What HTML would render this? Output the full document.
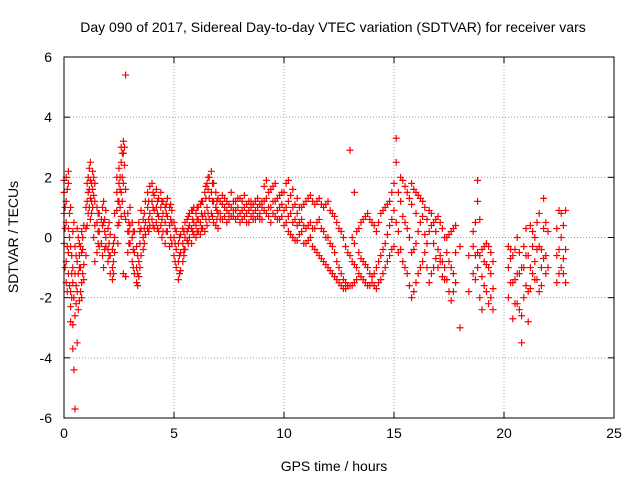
<!DOCTYPE html>
<html><head><meta charset="utf-8"><style>
body{margin:0;background:#fff;}
svg{display:block;font-family:"Liberation Sans",sans-serif;}
</style></head><body>
<svg id="chart" width="640" height="480" viewBox="0 0 640 480" xmlns="http://www.w3.org/2000/svg">
<rect x="0" y="0" width="640" height="480" fill="#fff"/>
<text x="333" y="32" font-size="14" text-anchor="middle">Day 090 of 2017, Sidereal Day-to-day VTEC variation (SDTVAR) for receiver vars</text>
<text x="334" y="471" font-size="14" text-anchor="middle">GPS time / hours</text>
<text x="18" y="237" font-size="14" text-anchor="middle" transform="rotate(-90 18 237)">SDTVAR / TECUs</text>
<g id="grid"></g>
<g id="ticks"></g>
<g id="points"></g>
<rect x="64" y="57" width="550" height="361" fill="none" stroke="#000" stroke-width="1"/>
</svg>
<script>
const xTicks=[0,5,10,15,20,25];
const yTicks=[-6,-4,-2,0,2,4,6];
const hours=[0,0.1,0.2,0.3,0.4,0.45,0.5,0.6,0.7,0.8,0.9,1.0,1.1,1.2,1.3,1.4,1.5,1.6,1.7,1.8,1.9,2.0,2.1,2.2,2.3,2.4,2.5,2.6,2.7,2.8,2.9,3.0,3.1,3.2,3.3,3.4,3.5,3.6,3.7,3.8,3.9,4.0,4.1,4.2,4.3,4.4,4.5,4.6,4.7,4.8,4.9,5.0,5.1,5.2,5.3,5.4,5.5,5.6,5.7,5.8,5.9,6.0,6.1,6.2,6.3,6.4,6.5,6.6,6.7,6.8,6.9,7.0,7.2,7.4,7.6,7.8,8.0,8.2,8.4,8.6,8.8,9.0,9.2,9.4,9.6,9.8,10.0,10.2,10.4,10.6,10.8,11.0,11.2,11.4,11.6,11.8,12.0,12.2,12.4,12.6,12.8,13.0,13.2,13.4,13.6,13.8,14.0,14.2,14.4,14.6,14.8,15.0,15.1,15.2,15.4,15.6,15.8,16.0,16.2,16.4,16.6,16.8,17.0,17.2,17.4,17.6,17.8,18.0,18.4,18.6,18.8,19.0,19.2,19.4,19.5,20.2,20.4,20.6,20.8,21.0,21.2,21.4,21.6,21.8,22.0,22.4,22.6,22.8];
const sdtvar=[[1.5,0.8,-0.2,1.9],[2.0,0.5,-0.8,1.2,-1.5],[1.8,-0.5,-1.2,0.3,2.2],[1.0,-1.8,-2.3,-0.3,-2.8],[0.2,-1.5,-2.9,-3.7,-1.0],[-4.4,-2.0,0.5],[-5.7,-0.3,-1.2,-2.6],[-0.8,0.3,-1.8,-3.5],[-1.0,-0.2,-2.1,-0.6],[-1.5,-0.5,0.2,-2.0],[-0.9,0.4,-1.4],[0.3,1.0,-0.6],[1.5,2.0,0.8],[2.5,1.3,0.6,1.9],[2.2,1.0,1.6],[1.8,0.4,-0.8,1.2],[0.5,-0.5,1.0],[0.2,-0.3,0.8],[-0.2,0.6],[1.2,0.5,-1.0],[0.9,0.0,-0.3],[-0.4,0.3,-0.8],[-0.6,-1.2,0.1],[-0.4,-1.0,-1.4],[0.8,0.0,-0.5],[1.5,2.0,0.9],[1.2,2.3,0.5,1.8],[2.5,3.0,1.5,0.7],[3.2,2.8,1.8,-1.2],[5.4,1.6,0.6,-1.3],[0.8,0.2,-0.5],[0.4,-0.2,1.0],[0.0,-0.8,0.5],[-0.5,-1.2,0.2],[-1.0,-1.5,-0.3],[-0.8,0.5,-1.3],[0.3,-0.6,0.9],[0.0,0.6,-0.4],[0.5,1.2,0.1],[1.0,0.3,1.5],[0.8,1.7,0.4],[1.2,0.6,1.8],[1.4,0.9,0.3],[1.0,1.6,0.5],[0.7,1.3,0.2],[1.0,0.4,1.5],[0.8,0.2,1.2],[0.5,1.0,-0.2],[1.3,0.7,0.2],[1.0,0.4,-0.3],[0.5,-0.2,0.9],[0.0,-0.6,0.5],[-0.4,-1.0,0.2],[-0.8,-1.4,-0.2],[-0.5,-1.1,0.1],[-0.2,0.3,-0.8],[0.0,0.5,-0.4],[0.2,0.6,-0.1],[0.4,0.8,0.0],[0.3,0.9,-0.2],[0.5,1.0,0.1],[0.4,0.8,0.0],[0.6,1.0,0.2],[0.5,1.1,0.1],[0.7,1.2,0.3],[0.8,1.5,0.2],[1.0,1.8,0.4],[1.3,2.0,0.6],[1.5,2.2,0.8],[1.2,1.8,0.5],[1.0,1.5,0.4],[0.8,1.3,0.3],[0.6,1.1,1.4],[0.5,0.9,1.2],[0.7,1.0,1.5],[0.6,1.2,0.9],[0.8,1.3,0.5],[0.7,1.0,1.4],[0.5,0.9,1.2],[0.8,1.1,0.6],[0.7,1.0,1.3],[0.6,1.0,1.2],[0.8,1.9,1.3],[0.5,1.6,1.0],[0.7,1.2,1.8],[0.6,1.0,1.4],[0.4,0.9,1.5],[0.7,1.9,1.2,0.2],[0.5,1.6,1.0,0.0],[0.4,1.3,0.8,-0.1],[0.2,1.0,0.6],[0.3,1.2,-0.2],[0.5,1.4,0.0],[0.3,1.1,-0.4],[0.6,1.3,-0.6],[1.0,0.2,-0.8],[1.2,0.0,-1.0],[0.8,-0.3,-1.2],[0.5,-0.8,-1.4],[0.2,-1.2,-1.6],[-0.3,-1.5,-1.7],[-0.6,-1.6,2.9],[-0.9,-1.5,-0.2,1.5],[-1.2,-0.5,0.3],[-1.4,-0.8,0.6],[-1.6,-1.0,0.8],[-1.5,-1.3,0.5],[-1.7,-1.0,0.2],[-1.4,-0.6,0.8],[-1.0,-0.2,1.0],[-0.6,0.4,1.2],[-0.3,0.9,1.8],[2.5,3.3,0.5],[0.2,1.5,-0.5],[-0.8,0.7,1.9],[-1.2,0.3,1.5],[-2.0,-0.5,1.1,1.8],[-1.5,-0.2,0.8,1.5],[-1.0,0.5,1.3],[-0.5,1.0,0.1],[-1.5,0.2,0.9],[-1.0,0.5,-0.2],[-0.4,0.7,-1.0],[-0.8,0.3,-1.3],[-1.4,-0.5,0.0],[-2.1,-1.0,0.2],[-0.5,-1.5,0.4],[-3.0,-0.3],[-1.8,-0.6],[-1.2,-0.3,0.2],[-1.0,1.9,1.2,-0.5],[-2.4,-1.3,-0.4],[-1.8,-0.9,-0.2],[-2.0,-1.2,-0.5],[-1.7,-2.4,-0.8],[-1.0,-2.0,-0.3],[-2.7,-1.5,-0.6],[-2.2,-1.2,0.0],[-3.5,-2.6,-1.0],[-1.6,-0.6,0.3],[-1.0,0.4,-1.7],[-0.8,0.0,-1.4],[-0.3,0.8,-1.8],[0.3,1.3,-0.7],[-1.0,0.2],[-1.5,-0.6,0.3],[-1.0,0.0,0.8],[-1.5,-0.4,0.9]];
const hours2=[0.05,0.15,0.25,0.35,0.55,0.65,0.75,0.85,1.05,1.15,1.25,1.35,1.55,1.75,1.85,2.05,2.25,2.45,2.55,2.65,2.75,2.95,3.15,3.35,3.45,3.65,3.85,4.05,4.25,4.45,4.65,4.85,5.05,5.25,5.45,5.65,5.85,6.05,6.25,6.45,6.55,6.75,6.95,7.1,7.3,7.5,7.7,7.9,8.1,8.3,8.5,8.7,8.9,9.1,9.3,9.5,9.7,9.9,10.1,10.3,10.5,10.7,10.9,11.1,11.3,11.5,11.7,11.9,12.1,12.3,12.5,12.7,12.9,13.1,13.3,13.5,13.7,13.9,14.1,14.3,14.5,14.7,14.9,15.3,15.5,15.7,15.9,16.1,16.3,16.5,16.7,16.9,17.1,17.3,17.5,17.7,18.7,18.9,19.1,19.3,20.3,20.5,20.7,20.9,21.1,21.3,21.5,21.7,21.9,22.5,22.7];
const sdtvar2=[[1.0,0.3,-1.0],[1.6,-0.3,-1.8],[0.8,-1.6,0.0],[-0.6,-2.0,-1.2],[-0.6,-1.6,-2.2],[-1.2,0.0,-2.4],[-0.3,-1.8,-1.0],[-1.2,0.0,-0.4],[1.2,0.4,1.8],[2.3,1.0,1.6],[1.8,1.2,0.8],[1.4,0.0,2.0],[0.2,0.8,-0.2],[0.4,-0.6,1.0],[0.6,-0.4,0.2],[-0.2,-0.6,0.5],[-0.8,-0.2,-1.2],[1.2,0.4,-0.2],[1.6,2.0,1.0],[2.8,2.0,1.2],[3.0,2.4,0.8],[0.5,-0.2,0.2],[-0.4,0.2,-1.0],[-1.2,-0.6,-1.6],[-0.2,-1.0,0.2],[0.3,-0.2,0.8],[1.2,0.6,0.2],[1.5,1.0,0.4],[1.2,0.8,0.3],[1.2,0.6,0.0],[0.8,1.1,0.2],[0.6,0.0,1.1],[-0.2,-0.8,0.3],[-0.6,-1.2,0.0],[-0.4,0.2,-0.6],[0.3,0.7,-0.2],[0.6,0.2,0.9],[0.6,0.2,1.0],[0.8,0.3,1.2],[1.3,0.6,1.7],[1.6,0.8,2.0],[1.8,1.2,0.7],[1.2,0.6,0.9],[0.8,1.2,0.6],[1.0,0.7,1.3],[0.8,1.1,0.6],[0.9,1.2,0.7],[1.0,0.7,1.3],[0.9,1.2,0.6],[0.8,1.1,0.5],[1.0,0.7,1.2],[0.9,0.6,1.2],[0.8,1.1,0.6],[0.9,1.7,1.2],[1.0,1.5,0.7],[1.2,0.8,1.7],[0.9,1.3,0.6],[1.1,0.7,1.5],[1.8,1.0,0.5],[1.4,0.8,0.1],[1.1,0.6,-0.1],[1.0,0.5,0.1],[1.1,0.4,-0.2],[1.3,0.4,-0.1],[1.2,0.3,-0.3],[1.2,0.5,-0.5],[1.1,0.3,-0.7],[1.1,0.0,-0.9],[0.9,-0.2,-1.1],[0.7,-0.5,-1.3],[0.3,-1.0,-1.5],[0.0,-1.4,-1.7],[-0.5,-1.6,-1.6],[-0.8,-1.6,0.0],[-1.0,-1.4,0.2],[-1.3,-0.7,0.5],[-1.5,-0.9,0.7],[-1.6,-1.2,0.6],[-1.6,-1.2,0.4],[-1.5,-0.8,0.5],[-1.2,-0.4,0.9],[-0.8,0.1,1.1],[-0.4,0.6,1.5],[-0.4,1.2,2.0],[-1.0,0.5,1.7],[-1.6,0.0,1.3],[-1.8,-0.4,1.6],[-1.2,0.2,1.4],[-0.8,0.7,1.2],[-1.0,0.6,-0.2],[-1.2,0.4,0.8],[-0.7,0.6,0.2],[-0.6,0.5,-0.8],[-1.0,0.0,-1.4],[-1.8,-0.8,0.1],[-1.2,-1.8,0.3],[-0.6,-1.4,0.5],[-2.0,-0.6,0.6],[-1.6,-0.8,-0.3],[-2.2,-1.0,-0.3],[-1.5,-0.7,-0.4],[-2.2,-1.4,-0.4],[-2.4,-1.2,-0.5],[-2.0,-1.0,-0.3],[-2.8,-1.8,-0.6],[-1.2,-0.3,0.2],[-1.4,-0.4,0.5],[-1.0,-0.4,-1.6],[-0.6,0.5,-1.2],[0.9,-0.4,-1.2],[-0.7,0.4,-1.2],[-1.3,-0.3,0.6],[-1.2,-0.2,0.5]];
const X0=64,X1=614,Y0=418,Y1=57;
const xs=v=>X0+(v-0)/(25-0)*(X1-X0);
const ys=v=>Y0-(v+6)/12*(Y0-Y1);
const NS="http://www.w3.org/2000/svg";
function mk(tag,attrs,parent){const e=document.createElementNS(NS,tag);for(const k in attrs)e.setAttribute(k,attrs[k]);parent.appendChild(e);return e;}
const grid=document.getElementById('grid'),ticks=document.getElementById('ticks'),pts=document.getElementById('points');
xTicks.forEach(t=>{const x=xs(t);
 if(t>0&&t<25){const l=mk('line',{x1:x,x2:x,y1:Y1,y2:Y0,stroke:'#a0a0a0','stroke-dasharray':'1,2'},grid);
 
 }
 mk('line',{x1:x,x2:x,y1:Y0,y2:Y0-6,stroke:'#000'},ticks);mk('line',{x1:x,x2:x,y1:Y1,y2:Y1+6,stroke:'#000'},ticks);
 const tx=mk('text',{x:x,y:Y0+20,'font-size':14,'text-anchor':'middle'},ticks);tx.textContent=t;
 
 });
yTicks.forEach(t=>{const y=ys(t);
 if(t>-6&&t<6){const l=mk('line',{x1:X0,x2:X1,y1:y,y2:y,stroke:'#a0a0a0','stroke-dasharray':'1,2'},grid);
 
 }
 mk('line',{x1:X0,x2:X0+6,y1:y,y2:y,stroke:'#000'},ticks);mk('line',{x1:X1,x2:X1-6,y1:y,y2:y,stroke:'#000'},ticks);
 const tx=mk('text',{x:X0-12,y:y+5,'font-size':14,'text-anchor':'end'},ticks);tx.textContent=t;
 
 });
function plotSet(hs,vs){hs.forEach((h,i)=>{vs[i].forEach(v=>{const x=xs(h),y=ys(v);
 const p=mk('path',{d:`M${x-3.5},${y}h7M${x},${y-3.5}v7`,stroke:'#ff0000','stroke-width':1.2,fill:'none'},pts);
 
 });});}
plotSet(hours,sdtvar);
plotSet(hours2,sdtvar2);
</script>
</body></html>
